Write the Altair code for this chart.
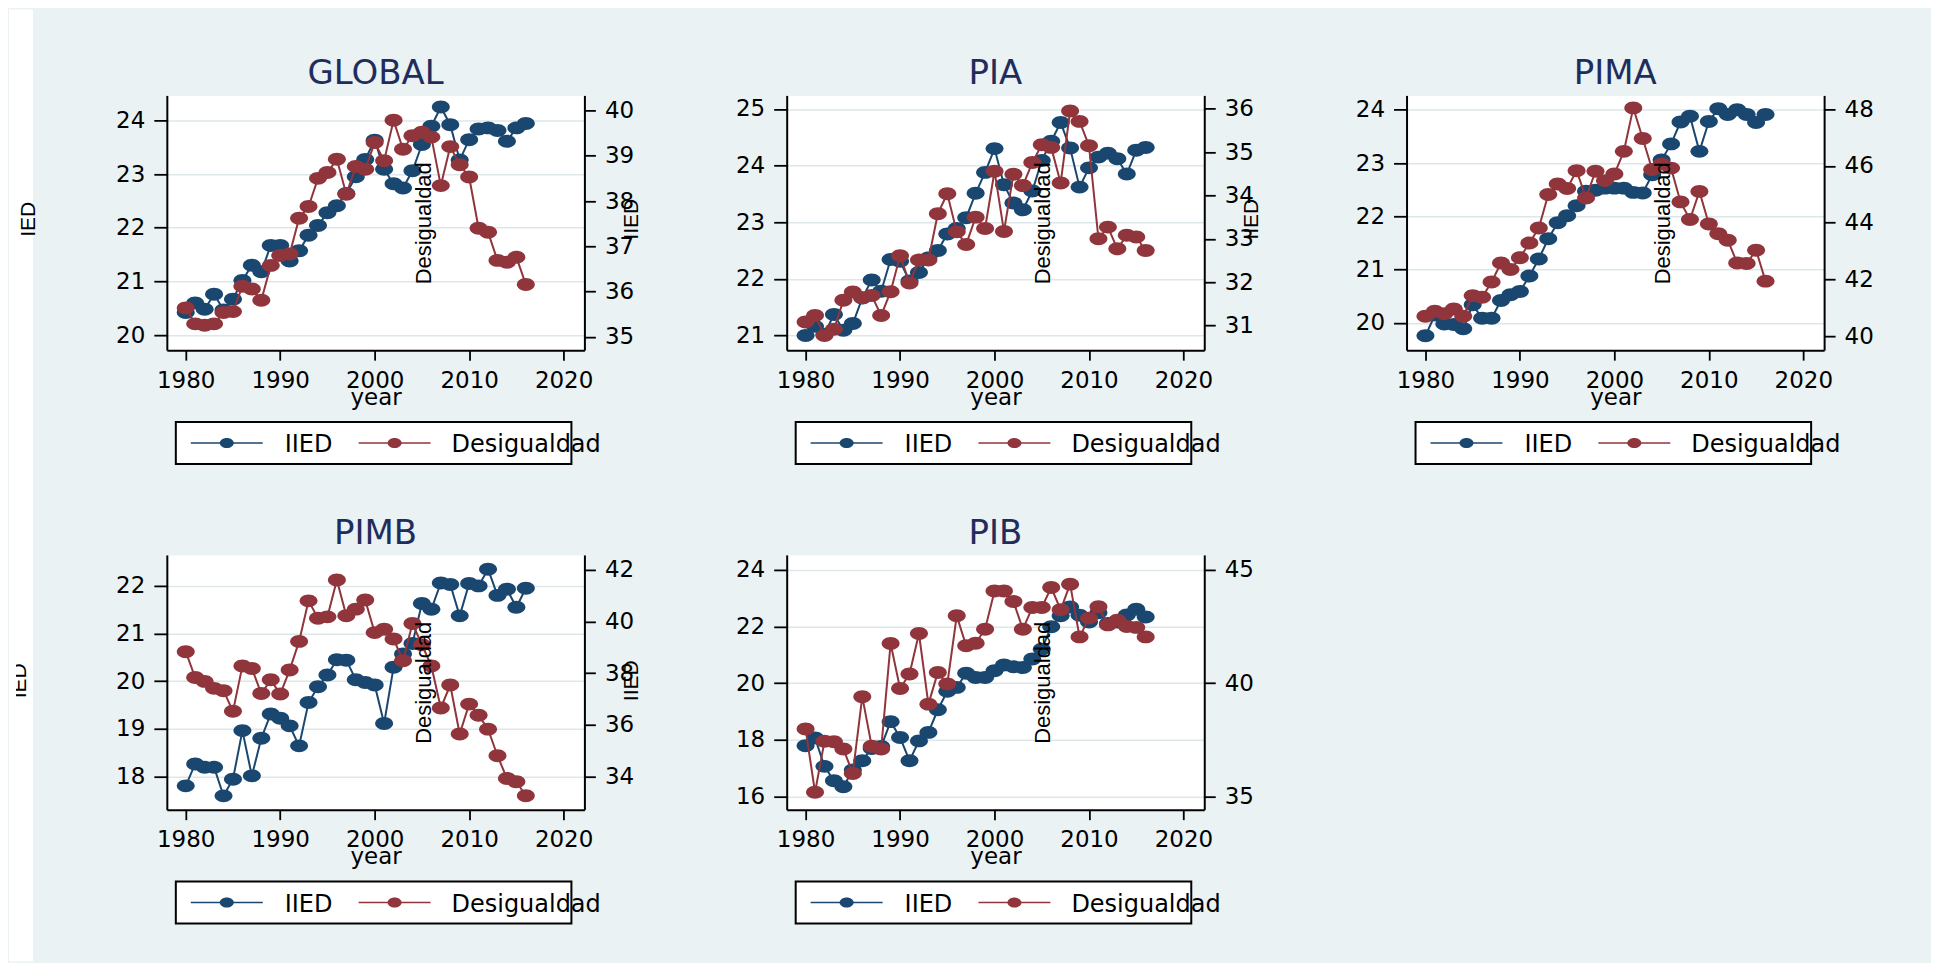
import altair as alt
import pandas as pd

# ---------------- data ----------------
years = list(range(1980, 2017))
panel_names = ["GLOBAL", "PIA", "PIMA", "PIMB", "PIB"]
series_names = ["IIED", "Desigualdad"]
x_ticks = [1980, 1990, 2000, 2010, 2020]

global_iied = [20.42, 20.60, 20.48, 20.76, 20.47, 20.67, 21.02, 21.30, 21.18, 21.67, 21.67, 21.38, 21.57, 21.86, 22.04, 22.28, 22.41, 22.64, 22.95, 23.27, 23.63, 23.09, 22.82, 22.74, 23.06, 23.55, 23.89, 24.25, 23.92, 23.26, 23.64, 23.84, 23.86, 23.81, 23.61, 23.86, 23.94]
global_des = [35.64, 35.29, 35.26, 35.29, 35.54, 35.56, 36.12, 36.06, 35.81, 36.58, 36.80, 36.83, 37.62, 37.88, 38.50, 38.63, 38.92, 38.15, 38.76, 38.70, 39.29, 38.89, 39.78, 39.14, 39.44, 39.52, 39.41, 38.34, 39.20, 38.80, 38.53, 37.40, 37.31, 36.69, 36.65, 36.76, 36.16]

pia_iied = [21.00, 21.16, 21.02, 21.37, 21.09, 21.21, 21.66, 21.98, 21.78, 22.34, 22.31, 21.96, 22.11, 22.37, 22.50, 22.79, 22.89, 23.08, 23.51, 23.88, 24.30, 23.66, 23.34, 23.22, 23.55, 24.09, 24.43, 24.76, 24.31, 23.62, 23.96, 24.15, 24.22, 24.12, 23.85, 24.27, 24.32]
pia_des = [31.08, 31.23, 30.77, 30.91, 31.58, 31.77, 31.64, 31.69, 31.23, 31.78, 32.61, 31.98, 32.51, 32.51, 33.58, 34.04, 33.16, 32.87, 33.50, 33.24, 34.56, 33.17, 34.49, 34.23, 34.76, 35.17, 35.11, 34.29, 35.95, 35.71, 35.15, 33.00, 33.27, 32.77, 33.08, 33.04, 32.73]

pima_iied = [19.76, 20.15, 19.98, 19.97, 19.89, 20.34, 20.09, 20.09, 20.42, 20.53, 20.59, 20.88, 21.20, 21.58, 21.88, 22.01, 22.20, 22.47, 22.49, 22.53, 22.53, 22.53, 22.45, 22.44, 22.78, 23.06, 23.36, 23.77, 23.88, 23.22, 23.78, 24.02, 23.91, 24.00, 23.91, 23.76, 23.91]
pima_des = [40.70, 40.88, 40.79, 40.96, 40.70, 41.43, 41.37, 41.91, 42.58, 42.35, 42.76, 43.28, 43.81, 44.99, 45.36, 45.20, 45.83, 44.87, 45.81, 45.48, 45.71, 46.51, 48.04, 46.96, 45.87, 46.06, 45.92, 44.73, 44.11, 45.10, 43.95, 43.61, 43.38, 42.58, 42.56, 43.03, 41.94]

pimb_iied = [17.80, 18.26, 18.19, 18.19, 17.59, 17.94, 18.96, 18.01, 18.80, 19.31, 19.22, 19.06, 18.64, 19.55, 19.88, 20.13, 20.45, 20.44, 20.03, 19.97, 19.92, 19.11, 20.29, 20.57, 20.79, 21.63, 21.51, 22.06, 22.03, 21.37, 22.05, 22.00, 22.35, 21.80, 21.93, 21.55, 21.95]
pimb_des = [38.83, 37.83, 37.68, 37.41, 37.32, 36.52, 38.28, 38.18, 37.21, 37.74, 37.19, 38.12, 39.23, 40.80, 40.13, 40.18, 41.61, 40.22, 40.48, 40.83, 39.57, 39.70, 39.32, 38.48, 39.92, 39.10, 38.28, 36.65, 37.54, 35.64, 36.80, 36.37, 35.83, 34.80, 33.92, 33.79, 33.25]

pib_iied = [17.79, 18.06, 17.06, 16.55, 16.34, 16.93, 17.26, 17.69, 17.76, 18.64, 18.08, 17.26, 17.96, 18.26, 19.06, 19.71, 19.85, 20.35, 20.20, 20.20, 20.44, 20.64, 20.58, 20.55, 20.85, 21.20, 21.99, 22.38, 22.69, 22.40, 22.16, 22.49, 22.11, 22.16, 22.41, 22.61, 22.34]
pib_des = [37.97, 35.18, 37.43, 37.41, 37.09, 36.01, 39.40, 37.21, 37.09, 41.75, 39.76, 40.40, 42.19, 39.07, 40.47, 39.96, 42.97, 41.65, 41.76, 42.38, 44.07, 44.07, 43.60, 42.38, 43.34, 43.34, 44.22, 43.24, 44.37, 42.04, 42.87, 43.37, 42.57, 42.78, 42.50, 42.46, 42.04]

# axis ranges / tick labels
left_domains = [[19.72, 24.465], [20.74, 25.24], [19.49, 24.27], [17.30, 22.65], [15.53, 24.53]]
left_ticks = [[20, 21, 22, 23, 24], [21, 22, 23, 24, 25], [20, 21, 22, 23, 24], [18, 19, 20, 21, 22], [16, 18, 20, 22, 24]]
right_domains = [[34.71, 40.33], [30.43, 36.31], [39.51, 48.48], [32.71, 42.58], [34.41, 45.66]]
right_ticks = [[35, 36, 37, 38, 39, 40], [31, 32, 33, 34, 35, 36], [40, 42, 44, 46, 48], [34, 36, 38, 40, 42], [35, 40, 45]]
x_domain = [1978.0, 2022.2]

iied_series = [global_iied, pia_iied, pima_iied, pimb_iied, pib_iied]
des_series = [global_des, pia_des, pima_des, pimb_des, pib_des]

# ---------------- style ----------------
NAVY = "#1a476f"
MAROON = "#90353b"
BG = "#eaf2f3"
TITLE_C = "#1f2d5c"
ELL = "M-1,0A1,0.72,0,1,0,1,0A1,0.72,0,1,0,-1,0Z"
W, H = 418, 255
FONT = "DejaVu Sans"
RFONT = "Liberation Sans"
ONE = pd.DataFrame({"k": [0]})


def vtext(text, x, y, **kw):
    return alt.Chart(ONE).mark_text(text=text, **kw).encode(x=alt.value(x), y=alt.value(y))


def vrect(x1, x2, y1, y2, **kw):
    return alt.Chart(ONE).mark_rect(**kw).encode(
        x=alt.value(x1), x2=alt.value(x2), y=alt.value(y1), y2=alt.value(y2))


def vrule(x1, x2, y, color):
    return alt.Chart(ONE).mark_rule(color=color, strokeWidth=1.6).encode(
        x=alt.value(x1), x2=alt.value(x2), y=alt.value(y))


def vpoint(x, y, color):
    return alt.Chart(ONE).mark_point(shape=ELL, size=196, filled=True, color=color, opacity=1).encode(
        x=alt.value(x), y=alt.value(y))


def panel(i):
    row, col = divmod(i, 3)
    df = pd.DataFrame({"year": years, "IIED": iied_series[i], "Desigualdad": des_series[i]})
    base = alt.Chart(df)
    xenc = alt.X("year:Q",
                 scale=alt.Scale(domain=x_domain, nice=False, zero=False),
                 axis=alt.Axis(values=x_ticks, format="d", title="year", tickSize=10,
                               labelPadding=9, grid=False, titleY=54, titleBaseline="alphabetic"))
    left = base.mark_line(
        color=NAVY, strokeWidth=2,
        point=alt.OverlayMarkDef(shape=ELL, size=324, filled=True, color=NAVY, opacity=1),
    ).encode(
        x=xenc,
        y=alt.Y("IIED:Q", scale=alt.Scale(domain=left_domains[i], nice=False, zero=False),
                axis=alt.Axis(orient="left", values=left_ticks[i], tickSize=13, labelPadding=9,
                              grid=True, title=None)),
    )
    right = base.mark_line(
        color=MAROON, strokeWidth=2,
        point=alt.OverlayMarkDef(shape=ELL, size=324, filled=True, color=MAROON, opacity=1),
    ).encode(
        x=xenc,
        y=alt.Y("Desigualdad:Q", scale=alt.Scale(domain=right_domains[i], nice=False, zero=False),
                axis=alt.Axis(orient="right", values=right_ticks[i], tickSize=11, labelPadding=9,
                              grid=False, title=None)),
    )

    pre = []
    post = []
    if i == 0:
        # white page strip on the left and an invisible corner marker fixing the canvas size
        pre.append(vrect(-158, -134, -86, 867, fill="white"))
        pre.append(vrect(1764, 1765, 866, 867, fill=BG))

    # panel title
    post.append(vtext(panel_names[i], W / 2, -11, font=FONT, fontSize=34, color=TITLE_C,
                      align="center", baseline="alphabetic"))
    # right-axis title drawn inside the plot (as in the original)
    post.append(vtext(series_names[1], 257, 128, font=RFONT, fontSize=22, angle=270,
                      align="center", baseline="middle", color="black"))
    # left-axis titles
    ymid = 124 if row == 0 else 126
    if col == 0 and row == 0:
        post.append(vtext("IED", -138, ymid, font=RFONT, fontSize=21, angle=270,
                          align="center", baseline="middle", color="black"))
    elif col == 0:
        post.append(vtext("IED", -141, ymid, font=RFONT, fontSize=21, angle=270,
                          align="center", baseline="alphabetic", color="black"))
        post.append(vrect(-158, -151, 95, 160, fill="white"))
    else:
        post.append(vtext("IIED", -154.5, ymid, font=RFONT, fontSize=21, angle=270,
                          align="center", baseline="middle", color="black"))

    # legend (box, keys and labels)
    post.append(vrect(9, 405, 327, 369, fill="white", stroke="black", strokeWidth=2))
    post.append(vrule(24, 96, 348, NAVY))
    post.append(vpoint(60, 348, NAVY))
    post.append(vtext(series_names[0], 118, 357, font=FONT, fontSize=24, color="black",
                      align="left", baseline="alphabetic"))
    post.append(vrule(192, 264, 348, MAROON))
    post.append(vpoint(228, 348, MAROON))
    post.append(vtext(series_names[1], 285, 357, font=FONT, fontSize=24, color="black",
                      align="left", baseline="alphabetic"))

    return alt.layer(*pre, left, right, *post).resolve_scale(y="independent").properties(
        width=W, height=H)


panels = [panel(i) for i in range(5)]

chart = alt.concat(
    *panels, columns=3, spacing={"row": 205, "column": 202.5}, bounds="flush"
).properties(
    background=BG, padding=0
).configure_view(
    fill="white", stroke="transparent"
).configure_axis(
    labelFont=FONT, labelFontSize=23, labelColor="black",
    titleFont=FONT, titleFontSize=23, titleFontWeight="normal", titleColor="black",
    domainColor="black", domainWidth=2, tickColor="black", tickWidth=1.8,
    gridColor="#dde7ea", gridWidth=1.5,
)

chart.save("out.html", embed_options={"renderer": "svg", "actions": False})
